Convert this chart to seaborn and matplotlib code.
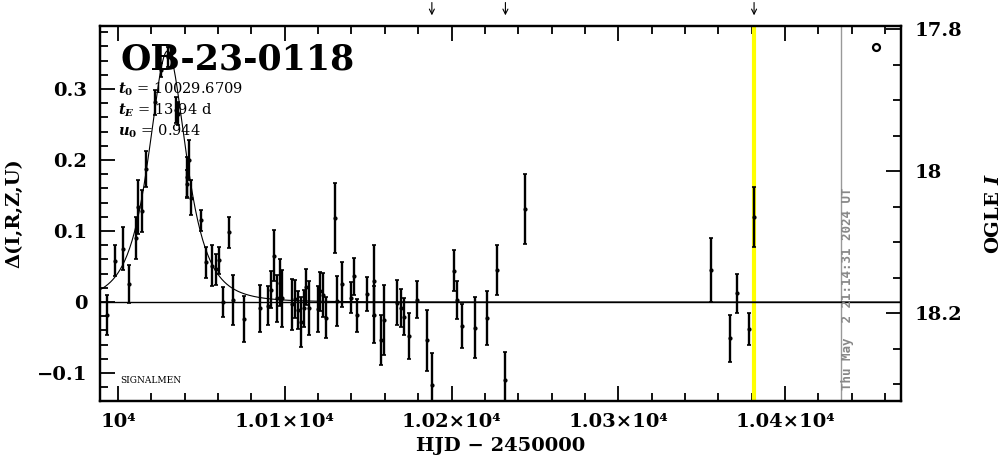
import numpy as np
import pandas as pd
import seaborn as sns
import matplotlib.pyplot as plt
from matplotlib.ticker import MultipleLocator, FixedLocator, FuncFormatter

# photometry: HJD-2450000, delta mag, error
hjd = [9993.2, 9998.2, 10002.8, 10006.8, 10010.8, 10011.8, 10014.2, 10016.8,
       10022.2, 10025.5, 10030.1, 10032.1, 10034.7, 10036.1, 10041.1, 10041.5,
       10042.7, 10043.9, 10049.5, 10052.7, 10056.1, 10058.7, 10060.7, 10062.7,
       10066.6, 10069.0, 10075.6, 10085.4, 10090.0, 10091.6, 10093.6, 10095.6,
       10097.0, 10098.4, 10104.4, 10106.4, 10108.0, 10110.0, 10111.4, 10112.6,
       10114.6, 10120.0, 10121.4, 10123.0, 10124.6, 10130.1, 10131.3, 10134.1,
       10139.9, 10141.5, 10143.3, 10149.3, 10153.3, 10153.6, 10157.5, 10159.5,
       10167.3, 10169.5, 10171.3, 10174.4, 10179.4, 10185.2, 10188.2, 10201.2,
       10203.4, 10206.2, 10214.2, 10221.1, 10227.1, 10232.2, 10244.1, 10355.5,
       10367.1, 10371.4, 10378.4, 10381.4]
delta = [-0.018, 0.058, 0.075, 0.025, 0.090, 0.134, 0.128, 0.187,
         0.281, 0.327, 0.345, 0.343, 0.270, 0.265, 0.166, 0.176,
         0.200, 0.147, 0.115, 0.056, 0.051, 0.046, 0.059, 0.000,
         0.098, 0.003, -0.024, -0.009, -0.005, 0.017, 0.065, 0.005,
         0.027, 0.005, -0.003, 0.004, -0.011, -0.028, -0.009, 0.021,
         -0.009, -0.010, 0.015, 0.010, -0.022, 0.118, 0.001, 0.025,
         0.006, 0.036, -0.019, 0.011, 0.030, -0.018, -0.054, -0.025,
         -0.001, -0.008, -0.021, -0.048, 0.003, -0.054, -0.117, 0.044,
         0.003, -0.034, -0.036, -0.022, 0.045, -0.110, 0.131, 0.045,
         -0.051, 0.012, -0.038, 0.120]
err = [0.028, 0.022, 0.030, 0.027, 0.030, 0.038, 0.030, 0.025,
       0.018, 0.010, 0.014, 0.014, 0.018, 0.016, 0.020, 0.028,
       0.028, 0.025, 0.015, 0.022, 0.029, 0.022, 0.019, 0.021,
       0.022, 0.035, 0.032, 0.033, 0.027, 0.026, 0.036, 0.033,
       0.033, 0.040, 0.036, 0.027, 0.027, 0.035, 0.026, 0.025,
       0.038, 0.032, 0.027, 0.031, 0.029, 0.049, 0.035, 0.032,
       0.022, 0.026, 0.023, 0.024, 0.050, 0.040, 0.035, 0.049,
       0.032, 0.027, 0.026, 0.032, 0.026, 0.043, 0.045, 0.029,
       0.027, 0.031, 0.043, 0.038, 0.035, 0.040, 0.049, 0.045,
       0.033, 0.028, 0.023, 0.042]

# PSPL fit parameters
t0, tE, u0 = 10029.6709, 13.94, 0.944
arrow_hjd = [10188.2, 10232.3, 10381.4]
now_hjd = 10381.4
plot_date_hjd = 10433.5
mag_zero = 18.184

xlim = (9989.2, 10469.5)
ylim = (-0.1394, 0.3887)

sns.set_style("ticks")
plt.rcParams['font.family'] = ['DejaVu Serif']
plt.rcParams['font.weight'] = 'bold'
plt.rcParams['axes.labelweight'] = 'bold'
plt.rcParams['mathtext.fontset'] = 'dejavuserif'
for k in ['text.color', 'axes.labelcolor', 'xtick.color', 'ytick.color', 'axes.edgecolor']:
    plt.rcParams[k] = 'black'

fig = plt.figure(figsize=(10.04, 4.59), dpi=100)
ax = fig.add_axes([0.0996, 0.1264, 0.7978, 0.817])

ax.axvline(now_hjd, color='#ffff00', lw=3, zorder=1)
ax.axvline(plot_date_hjd, color='#999999', lw=1, zorder=1)
ax.axhline(0, color='black', lw=1, zorder=2)

tt = np.linspace(xlim[0], xlim[1], 1000)
uu = np.sqrt(u0 ** 2 + ((tt - t0) / tE) ** 2)
amp = (uu ** 2 + 2) / (uu * np.sqrt(uu ** 2 + 4))
model = pd.DataFrame({"t": tt, "d": 2.5 * np.log10(amp)})
sns.lineplot(data=model, x="t", y="d", ax=ax, color='black', lw=0.8, zorder=2)

ax.errorbar(hjd, delta, yerr=err, fmt='o', ms=2, color='black',
            elinewidth=1.7, capsize=1.5, capthick=1.2, zorder=3)

ax.plot([10454.5], [0.359], marker='o', ms=5, mfc='white', mec='black', mew=1.6)

for h in arrow_hjd:
    ax.annotate('', xy=(h, 1.021), xytext=(h, 1.07),
                xycoords=ax.get_xaxis_transform(), textcoords=ax.get_xaxis_transform(),
                arrowprops=dict(arrowstyle='->', color='black', lw=0.8, mutation_scale=9),
                annotation_clip=False)

ax.set_xlim(*xlim)
ax.set_ylim(*ylim)

ax.text(0.025, 0.883, 'OB-23-0118', transform=ax.transAxes, fontsize=25,
        fontweight='bold', ha='left', va='baseline')
ax.text(0.0225, 0.821, '$t_0$ = 10029.6709', transform=ax.transAxes, fontsize=10.5,
        fontweight='normal', va='baseline')
ax.text(0.0225, 0.763, '$t_E$ = 13.94 d', transform=ax.transAxes, fontsize=10.5,
        fontweight='normal', va='baseline')
ax.text(0.0225, 0.707, '$u_0$ = 0.944', transform=ax.transAxes, fontsize=10.5,
        fontweight='normal', va='baseline')
ax.text(0.025, 0.048, 'SIGNALMEN', transform=ax.transAxes, fontsize=6.5,
        fontweight='normal', va='baseline')
ax.text(10437.3, 0.03, 'Thu May  2 21:14:31 2024 UT', transform=ax.get_xaxis_transform(),
        rotation=90, color='#888888', fontsize=9, family='DejaVu Sans Mono',
        fontweight='bold', ha='center', va='bottom')

ax.xaxis.set_major_locator(MultipleLocator(100))
ax.xaxis.set_minor_locator(MultipleLocator(20))
ax.xaxis.set_major_formatter(FuncFormatter(
    lambda v, p: '10⁴' if abs(v - 10000) < 1 else f'{v / 1e4:.2f}×10⁴'))
ax.yaxis.set_major_locator(MultipleLocator(0.1))
ax.yaxis.set_minor_locator(MultipleLocator(0.02))
ax.yaxis.set_major_formatter(FuncFormatter(
    lambda v, p: '0' if abs(v) < 1e-9 else f'{v:g}'.replace('-', '−')))

ax.tick_params(which='both', direction='in', top=True, right=False, width=1.3,
               labelsize=14, pad=9)
ax.tick_params(which='major', length=11)
ax.tick_params(which='minor', length=6)
for s in ax.spines.values():
    s.set_linewidth(1.6)
    s.set_visible(True)

ax.set_xlabel('HJD − 2450000', fontsize=14, labelpad=4)
ax.set_ylabel('Δ(I,R,Z,U)', fontsize=14, labelpad=10)

ax2 = ax.twinx()
ax2.set_ylim(mag_zero - ylim[0], mag_zero - ylim[1])
ax2.yaxis.set_major_locator(FixedLocator([17.8, 18.0, 18.2]))
ax2.yaxis.set_minor_locator(MultipleLocator(0.05))
ax2.yaxis.set_major_formatter(FuncFormatter(lambda v, p: f'{v:g}'))
ax2.tick_params(which='both', direction='in', width=1.3, labelsize=14, pad=10)
ax2.tick_params(which='major', length=11)
ax2.tick_params(which='minor', length=6)
ax2.set_ylabel('OGLE $I$', fontsize=14, labelpad=16)
for s in ax2.spines.values():
    s.set_linewidth(1.6)

fig.savefig('out.png', dpi=100)
